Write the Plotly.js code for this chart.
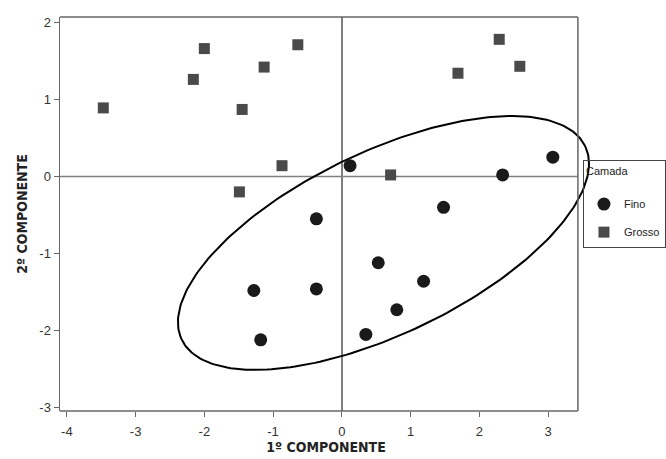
<!DOCTYPE html>
<html>
<head>
<meta charset="utf-8">
<script src="https://cdn.plot.ly/plotly-3.0.1.min.js"></script>
<style>html,body{margin:0;padding:0;background:#fff;}#chart{width:666px;height:459px;}</style>
</head>
<body>
<div id="chart"></div>
<script>
// Fino (circles)
const finoX = [0.12, 2.34, 3.07, -0.37, -1.28, -0.37, -1.18, 0.53, 1.19, 0.80, 0.35, 1.48];
const finoY = [0.14, 0.02, 0.25, -0.55, -1.48, -1.46, -2.12, -1.12, -1.36, -1.73, -2.05, -0.40];
// Grosso (squares)
const grossoX = [-3.47, -2.00, -2.16, -1.13, -0.64, -1.45, -0.87, -1.49, 2.29, 2.59, 1.69, 0.71];
const grossoY = [0.89, 1.66, 1.26, 1.42, 1.71, 0.87, 0.14, -0.20, 1.78, 1.43, 1.34, 0.02];
// Tick labels
const xTickVals = [-4, -3, -2, -1, 0, 1, 2, 3];
const xTickText = ['-4', '-3', '-2', '-1', '0', '1', '2', '3'];
const yTickVals = [-3, -2, -1, 0, 1, 2];
const yTickText = ['-3', '-2', '-1', '0', '1', '2'];
// Ellipse parameters (data units)
const ellCenter = [0.606, -0.863];
const ellHalfExtent = [2.99, 1.647];
const ellPhase = 0.897;

// Frame limits (data units) — the ellipse pokes slightly beyond the right frame
const frameX = [-4.10, 3.435];
const frameY = [-3.044, 2.07];
const xRangeFull = [-4.10, 3.64];

const ex = [], ey = [];
for (let i = 0; i <= 240; i++) {
  const t = 2 * Math.PI * i / 240;
  ex.push(ellCenter[0] + ellHalfExtent[0] * Math.cos(t));
  ey.push(ellCenter[1] + ellHalfExtent[1] * Math.cos(t - ellPhase));
}

const traces = [
  {x: ex, y: ey, mode: 'lines', line: {color: '#000', width: 2}, showlegend: false, hoverinfo: 'skip'},
  {x: finoX, y: finoY, mode: 'markers', name: 'Fino', legendgroup: 'a',
   marker: {symbol: 'circle', size: 13, color: '#1a1a1a'}},
  {x: grossoX, y: grossoY, mode: 'markers', name: 'Grosso', legendgroup: 'b',
   marker: {symbol: 'square', size: 11, color: '#4a4a4a'}}
];

const axisFont = {family: 'Liberation Sans, Arial, sans-serif', size: 13, color: '#333'};
const titleFont = {family: 'Liberation Sans Narrow, Arial Narrow, DejaVu Sans Condensed, sans-serif', size: 14, color: '#222', weight: 'bold'};
const frameColor = '#666';
const zeroColor = '#808080';

const shapes = [
  // frame: bottom, top, right
  {type: 'line', xref: 'x', yref: 'paper', x0: frameX[0], x1: frameX[1], y0: 0, y1: 0, line: {color: frameColor, width: 1.5}},
  {type: 'line', xref: 'x', yref: 'paper', x0: frameX[0], x1: frameX[1], y0: 1, y1: 1, line: {color: frameColor, width: 1.5}},
  {type: 'line', xref: 'x', yref: 'paper', x0: frameX[1], x1: frameX[1], y0: 0, y1: 1, line: {color: frameColor, width: 1.5}},
  // zero line y = 0
  {type: 'line', xref: 'x', yref: 'y', x0: frameX[0], x1: frameX[1], y0: 0, y1: 0, layer: 'below', line: {color: zeroColor, width: 1.5}}
];

const layout = {
  width: 666, height: 459,
  margin: {l: 60, r: 74, t: 17, b: 48, autoexpand: false},
  paper_bgcolor: '#fff', plot_bgcolor: '#fff',
  showlegend: true,
  shapes: shapes,
  xaxis: {
    range: xRangeFull, tickvals: xTickVals, ticktext: xTickText,
    showgrid: false, zeroline: true, zerolinecolor: zeroColor, zerolinewidth: 1.5,
    showline: false,
    ticks: 'outside', ticklen: 5, tickcolor: frameColor, tickwidth: 1,
    ticklabelstandoff: 3,
    tickfont: axisFont,
    title: {text: '1º COMPONENTE', font: titleFont, standoff: 4}
  },
  yaxis: {
    range: frameY, tickvals: yTickVals, ticktext: yTickText,
    showgrid: false, zeroline: false,
    showline: true, linecolor: frameColor, linewidth: 1.5, mirror: false,
    ticks: 'outside', ticklen: 5, tickcolor: frameColor, tickwidth: 1,
    tickfont: axisFont,
    title: {text: '2º COMPONENTE', font: titleFont, standoff: 8}
  },
  legend: {
    xref: 'paper', yref: 'paper',
    x: 0.983, xanchor: 'left', y: 0.637, yanchor: 'top',
    bordercolor: '#444', borderwidth: 1, bgcolor: 'rgba(255,255,255,0)',
    font: {family: 'Liberation Sans, Arial, sans-serif', size: 11, color: '#222'},
    title: {text: 'Camada<br> ', font: {family: 'Liberation Sans, Arial, sans-serif', size: 11, color: '#222'}},
    traceorder: 'grouped', tracegroupgap: 9, itemwidth: 30
  }
};

Plotly.newPlot('chart', traces, layout, {displayModeBar: false, staticPlot: true});
</script>
</body>
</html>
